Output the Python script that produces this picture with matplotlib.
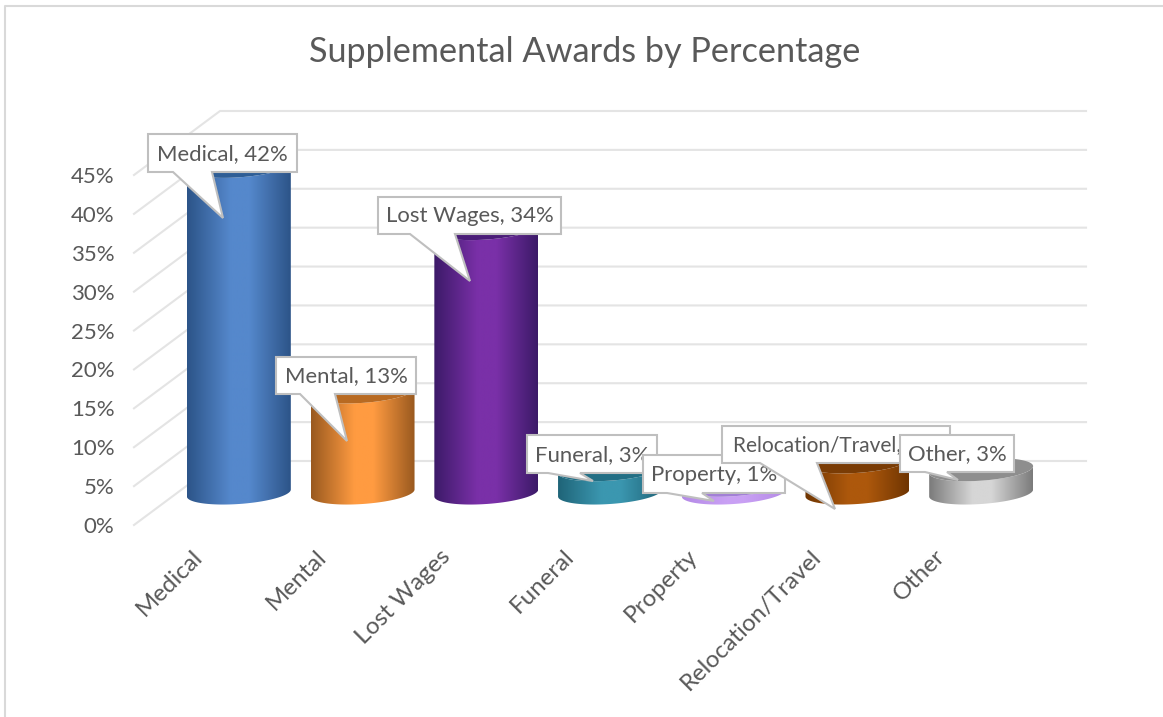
import matplotlib
matplotlib.use('Agg')
import matplotlib.pyplot as plt
import numpy as np
from matplotlib.colors import LinearSegmentedColormap
from matplotlib.patches import Polygon
from matplotlib.transforms import ScaledTranslation

plt.rcParams['font.family'] = ['Lato', 'DejaVu Sans']

categories = ['Medical', 'Mental', 'Lost Wages', 'Funeral', 'Property', 'Relocation/Travel', 'Other']
values = [42, 13, 34, 3, 1, 4, 3]
y_ticks = [0, 5, 10, 15, 20, 25, 30, 35, 40, 45]

# edge colour, light colour, colour of the top face
edge_colors = ['#2c5488', '#99591f', '#3c1a68', '#1f6478', '#b48ae6', '#6f3502', '#7b7b7b']
mid_colors = ['#5588cc', '#ff9b41', '#7a30a8', '#3b97b0', '#c9a0f4', '#ad580c', '#d6d6d6']
top_colors = ['#2f5e96', '#b86a22', '#4a1d78', '#236f85', '#a27fd6', '#7a3c05', '#8e8e8e']

# callouts, in picture pixels: box left, top, right, bottom, pointer base from, to, tip x, y
callouts = [
    (148, 134, 297, 172, 173, 212, 223, 218),
    (276, 357, 416, 394, 300, 335, 347, 441),
    (378, 197, 561, 234, 410, 455, 470, 281),
    (527, 435, 657, 473, 548, 580, 593, 481),
    (643, 455, 785, 493, 667, 702, 714, 501),
    (722, 426, 950, 463, 760, 817, 835, 509),
    (900, 435, 1014, 472, 925, 947, 958, 480),
]

W, H = 1163, 717
TEXT = '#595959'
GRID = '#e4e4e4'

fig = plt.figure(figsize=(W / 100, H / 100), dpi=100, facecolor='white')
ax = fig.add_axes([134 / W, 1 - 525 / H, (1000 - 134) / W, 350 / H])
ax.set_xlim(-0.5, 6.5)
ax.set_ylim(0, 45)
ax.set_autoscale_on(False)
for s in ax.spines.values():
    s.set_visible(False)
ax.patch.set_alpha(0)

# depth of the 3d box, in axis units
dx = 86 / 123.7
dy = 64 / (350 / 45)
px_y = 45 / 350

ax.set_yticks(y_ticks)
ax.set_yticklabels([str(t) + '%' for t in y_ticks], fontsize=16, color=TEXT)
ax.set_xticks(range(len(categories)))
ax.set_xticklabels(categories, fontsize=17.3, color=TEXT, rotation=45, ha='right', rotation_mode='anchor')
ax.tick_params(axis='y', length=0, pad=14)
ax.tick_params(axis='x', length=0, pad=15)
for label in ax.get_xticklabels():
    label.set_transform(label.get_transform() + ScaledTranslation(-3 / 72, 0, fig.dpi_scale_trans))

for t in y_ticks:
    ax.plot([-0.5, -0.5 + dx, 6.5 + dx], [t, t + dy, t + dy], color=GRID, lw=1.5, clip_on=False, zorder=1)

half_w = 0.42
b = 11 * px_y
k = 3.5 * px_y
t_low = np.linspace(np.pi, 2 * np.pi, 80)
t_all = np.linspace(0, 2 * np.pi, 160)

for i in range(len(values)):
    v = values[i]
    cx = i + dx / 2
    base = dy / 2
    lx = cx + half_w * np.cos(t_low)
    bottom = base + b * np.sin(t_low) + k * np.cos(t_low)
    top = base + v + b * np.sin(t_low) + k * np.cos(t_low)
    body = Polygon(np.column_stack([np.r_[lx, lx[::-1]], np.r_[bottom, top[::-1]]]),
                   facecolor='none', edgecolor='none', clip_on=False, zorder=2)
    ax.add_patch(body)
    cmap = LinearSegmentedColormap.from_list('c', [(0, edge_colors[i]), (0.42, mid_colors[i]), (0.6, mid_colors[i]), (1, edge_colors[i])])
    im = ax.imshow(np.linspace(0, 1, 256).reshape(1, -1), cmap=cmap, aspect='auto',
                   extent=(cx - half_w, cx + half_w, base - 3, base + v + 3), zorder=2, interpolation='bilinear')
    # the axes box would cut the last bar otherwise
    im.set_clip_box(fig.bbox)
    im.set_clip_path(body)
    ex = cx + half_w * np.cos(t_all)
    ey = base + v + b * np.sin(t_all) + k * np.cos(t_all)
    ax.fill(ex, ey, color=top_colors[i], lw=0, clip_on=False, zorder=3)

ax.set_xlim(-0.5, 6.5)
ax.set_ylim(0, 45)

# overlay in picture pixels for border, title and callouts
ov = fig.add_axes([0, 0, 1, 1], zorder=5)
ov.set_xlim(0, W)
ov.set_ylim(H, 0)
ov.axis('off')
ov.patch.set_alpha(0)
ov.plot([5, 5, W], [H, 6, 6], color='#d9d9d9', lw=1.5)
ov.text(585, 52, 'Supplemental Awards by Percentage', fontsize=24.7, color=TEXT, ha='center', va='center')

for n, c in enumerate(callouts):
    l, t, r, bt, p0, p1, tx, ty = c
    pts = [(l, t), (r, t), (r, bt), (p1, bt), (tx, ty), (p0, bt), (l, bt)]
    ov.add_patch(Polygon(pts, closed=True, facecolor='white', edgecolor='#bfbfbf', lw=1.5, zorder=10 + n * 2))
    txt = categories[n] + ', ' + str(values[n]) + '%'
    if categories[n] == 'Relocation/Travel':
        # long label runs under the Other box, same as the original
        ov.text(l + 11, (t + bt) / 2 + 1, txt, fontsize=15, color=TEXT, ha='left', va='center', zorder=11 + n * 2)
    else:
        ov.text((l + r) / 2, (t + bt) / 2 + 1, txt, fontsize=15.9, color=TEXT, ha='center', va='center', zorder=11 + n * 2)

fig.savefig('out.png', dpi=100)
